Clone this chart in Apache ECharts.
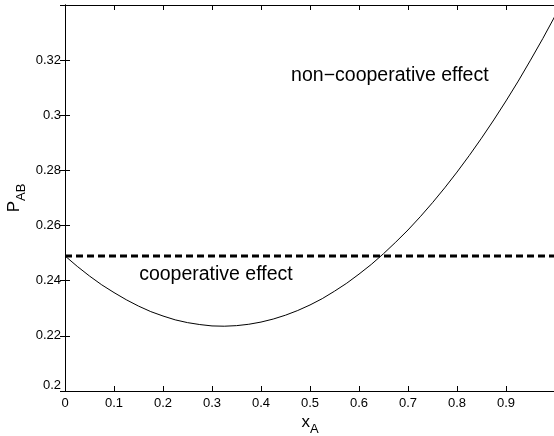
<!DOCTYPE html>
<html><head><meta charset="utf-8">
<script src="https://cdn.jsdelivr.net/npm/echarts@6/dist/echarts.min.js"></script>
<style>html,body{margin:0;padding:0;background:#fff}#c{width:554px;height:436px}</style>
</head><body><div id="c"></div>
<script>
const xValues = [0,0.025,0.05,0.075,0.1,0.125,0.15,0.175,0.2,0.225,0.25,0.275,0.3,0.325,0.35,0.375,0.4,0.425,0.45,0.475,0.5,0.525,0.55,0.575,0.6,0.625,0.65,0.675,0.7,0.725,0.75,0.775,0.8,0.825,0.85,0.875,0.9,0.925,0.95,0.975,1.0];
const pAB = [0.2490,0.2452,0.2417,0.2385,0.2357,0.2331,0.2308,0.2288,0.2272,0.2258,0.2248,0.2241,0.2236,0.2235,0.2237,0.2242,0.2250,0.2261,0.2275,0.2292,0.2312,0.2335,0.2362,0.2391,0.2424,0.2459,0.2498,0.2540,0.2584,0.2632,0.2683,0.2737,0.2794,0.2854,0.2917,0.2983,0.3052,0.3124,0.3200,0.3278,0.3360];
const refX = [0, 1];
const refY = [0.249, 0.249];
const xTicks = [0,0.1,0.2,0.3,0.4,0.5,0.6,0.7,0.8,0.9,1];
const yTicks = [0.2,0.22,0.24,0.26,0.28,0.3,0.32];
const annotations = [
  {text: 'non\u2212cooperative effect', x: 0.663, y: 0.3145},
  {text: 'cooperative effect', x: 0.308, y: 0.2421}
];

const chart = echarts.init(document.getElementById('c'), null, {renderer: 'canvas'});
const font = 'Liberation Sans';
const tickStyle = {show: true, inside: true, length: 5, lineStyle: {color: '#000', width: 1}};
const lineStyle = {show: true, lineStyle: {color: '#000', width: 1}};
chart.setOption({
  animation: false,
  backgroundColor: '#fff',
  grid: {left: 65, top: 5, width: 490, bottom: 45, containLabel: false, outerBoundsMode: 'none'},
  xAxis: [{
    type: 'value', min: 0, max: 1, interval: 0.1, position: 'bottom',
    axisLine: lineStyle, axisTick: tickStyle, splitLine: {show: false},
    axisLabel: {color: '#000', fontFamily: font, fontSize: 13, margin: 6,
      formatter: v => xTicks.some(t => Math.abs(t - v) < 1e-9) && v < 0.999 ? String(+v.toFixed(1)) : ''},
    name: '{x|x}{s|A}', nameLocation: 'middle', nameGap: 18, nameMoveOverlap: false,
    nameTextStyle: {rich: {x: {fontFamily: font, fontSize: 17, color: '#000'}, s: {fontFamily: font, fontSize: 13, color: '#000', padding: [14, 0, 0, 0]}}}
  }, {
    type: 'value', min: 0, max: 1, interval: 0.1, position: 'top',
    axisLine: lineStyle, axisTick: tickStyle, splitLine: {show: false}, axisLabel: {show: false}
  }],
  yAxis: [{
    type: 'value', min: 0.2, max: 0.34, interval: 0.02, position: 'left',
    axisLine: lineStyle, axisTick: tickStyle, splitLine: {show: false},
    axisLabel: {color: '#000', fontFamily: font, fontSize: 13, margin: 4,
      formatter: v => {
        if (v > 0.33) return '';
        const s = String(+v.toFixed(2));
        return Math.abs(v - 0.2) < 1e-9 ? '{low|' + s + '}' : s;
      },
      rich: {low: {fontFamily: font, fontSize: 13, color: '#000', padding: [0, 0, 12, 0]}}},
    name: '{p|P}{s|AB}', nameLocation: 'middle', nameGap: 37, nameRotate: 90, nameMoveOverlap: false,
    nameTextStyle: {rich: {p: {fontFamily: font, fontSize: 17, color: '#000'}, s: {fontFamily: font, fontSize: 13, color: '#000', padding: [14, 0, 0, 0]}}}
  }, {
    type: 'value', min: 0.2, max: 0.34, interval: 0.02, position: 'right',
    axisLine: lineStyle, axisTick: tickStyle, splitLine: {show: false}, axisLabel: {show: false}
  }],
  series: [{
    type: 'line', data: xValues.map((x, i) => [x, pAB[i]]), smooth: false, showSymbol: false,
    lineStyle: {color: '#000', width: 1}, silent: true,
    markPoint: {
      symbol: 'circle', symbolSize: 0, silent: true,
      label: {show: true, position: 'inside', color: '#000', fontFamily: font, fontSize: 19.5, formatter: p => p.name},
      data: annotations.map(a => ({name: a.text, coord: [a.x, a.y]}))
    }
  }, {
    type: 'line', data: refX.map((x, i) => [x, refY[i]]), showSymbol: false, silent: true,
    lineStyle: {color: '#000', width: 3, type: [7, 4]}
  }]
});
</script></body></html>
